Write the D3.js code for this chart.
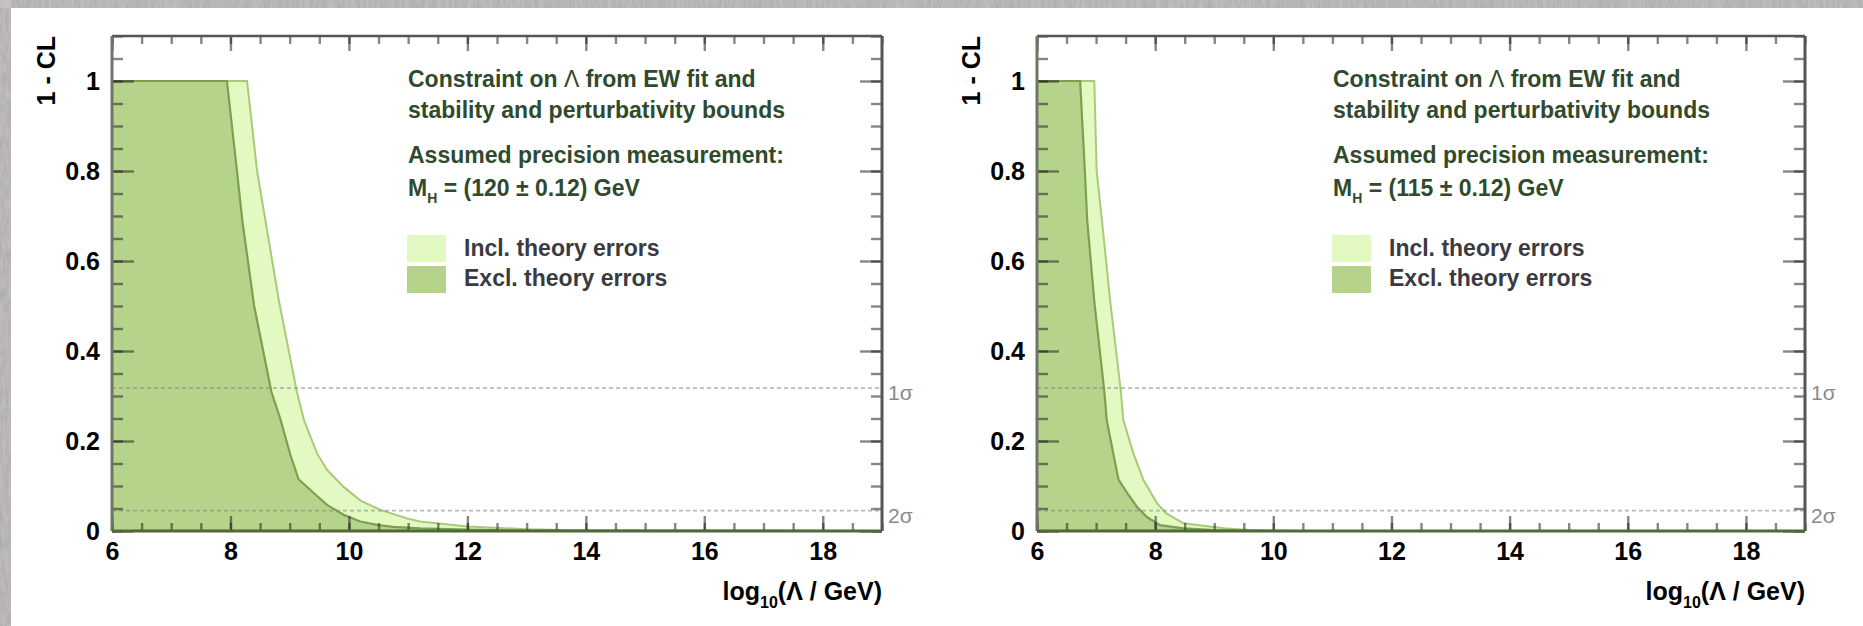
<!DOCTYPE html>
<html>
<head>
<meta charset="utf-8">
<script src="https://cdn.jsdelivr.net/npm/d3@7"></script>
<style>
  body { margin: 0; background: #fff; }
  svg { display: block; font-family: "Liberation Sans", Arial, sans-serif; }
</style>
</head>
<body>
<div id="chart"></div>
<script>
let w = 1863;
let h = 626;

// 1 - CL curves, M_H = 120 GeV (left panel)
const excl120X = [6, 7.94, 8.11, 8.20, 8.40, 8.69, 8.84, 9.01, 9.15, 9.41, 9.63, 9.91, 10.19, 10.5, 10.75, 11.2, 12, 13, 19];
const excl120Y = [1, 1, 0.8, 0.69, 0.50, 0.31, 0.25, 0.17, 0.115, 0.084, 0.058, 0.036, 0.021, 0.013, 0.009, 0.006, 0.003, 0.001, 0];
const incl120X = [6, 8.28, 8.45, 8.59, 8.82, 9.12, 9.24, 9.46, 9.63, 9.91, 10.19, 10.53, 10.98, 11.2, 12, 13, 14, 19];
const incl120Y = [1, 1, 0.8, 0.69, 0.51, 0.31, 0.247, 0.173, 0.136, 0.098, 0.068, 0.047, 0.028, 0.021, 0.01, 0.004, 0.001, 0];

// M_H = 115 GeV (right panel)
const excl115X = [6, 6.73, 6.81, 6.85, 6.97, 7.14, 7.18, 7.29, 7.38, 7.55, 7.69, 7.86, 8.08, 8.48, 9, 10, 19];
const excl115Y = [1, 1, 0.8, 0.69, 0.51, 0.31, 0.247, 0.173, 0.114, 0.080, 0.054, 0.031, 0.013, 0.006, 0.002, 0, 0];
const incl115X = [6, 6.97, 7.01, 7.10, 7.24, 7.42, 7.46, 7.63, 7.80, 8.03, 8.19, 8.48, 9.16, 9.6, 10.5, 19];
const incl115Y = [1, 1, 0.8, 0.69, 0.51, 0.31, 0.247, 0.173, 0.114, 0.062, 0.039, 0.017, 0.006, 0.002, 0, 0];

// axis ticks and labels
const xMajor = [6, 8, 10, 12, 14, 16, 18];
const xMinor = d3.range(6, 19.01, 0.5);
const yMajor = [0, 0.2, 0.4, 0.6, 0.8, 1];
const yMinor = d3.range(0, 1.101, 0.05);
const sigmaLines = [{ v: 0.3173, label: "1σ" }, { v: 0.0455, label: "2σ" }];
const legendLabels = ["Incl. theory errors", "Excl. theory errors"];
const massLabels = ["120", "115"];

const lightFill = "#e2f9c2", lightLine = "#a9c97c";
const darkFill = "#b6d38b", darkLine = "#7aa050";

const panels = [
  { left: 112, right: 882, mass: massLabels[0], excl: [excl120X, excl120Y], incl: [incl120X, incl120Y] },
  { left: 1037, right: 1805, mass: massLabels[1], excl: [excl115X, excl115Y], incl: [incl115X, incl115Y] }
];
const plotTop = 36, plotBottom = 531;

let svg = d3.select("#chart")
  .append("svg")
  .attr("width", w)
  .attr("height", h);

// gray textured border of the slide
const defs = svg.append("defs");
const f = defs.append("filter").attr("id", "grain").attr("x", 0).attr("y", 0).attr("width", 1).attr("height", 1);
f.append("feTurbulence").attr("type", "fractalNoise").attr("baseFrequency", "0.35 0.08").attr("numOctaves", 2).attr("result", "n");
f.append("feColorMatrix").attr("in", "n").attr("type", "matrix")
  .attr("values", "0 0 0 0 0.6  0 0 0 0 0.58  0 0 0 0 0.6  0 0 0 0.6 0.3").attr("result", "c");
f.append("feComposite").attr("in", "c").attr("in2", "SourceGraphic").attr("operator", "in");

svg.append("rect").attr("width", w).attr("height", h).attr("fill", "#fff");
svg.append("rect").attr("x", 0).attr("y", 0).attr("width", w).attr("height", 8).attr("fill", "#9c989b");
svg.append("rect").attr("x", 0).attr("y", 0).attr("width", 11).attr("height", h).attr("fill", "#9c989b");
svg.append("rect").attr("x", 0).attr("y", 0).attr("width", w).attr("height", 8).attr("fill", "#888").attr("filter", "url(#grain)");
svg.append("rect").attr("x", 0).attr("y", 0).attr("width", 11).attr("height", h).attr("fill", "#888").attr("filter", "url(#grain)");

panels.forEach(p => {
  const x = d3.scaleLinear().domain([6, 19]).range([p.left, p.right]);
  const y = d3.scaleLinear().domain([0, 1.1]).range([plotBottom, plotTop]);
  const g = svg.append("g");

  const area = d3.area().x(d => x(d[0])).y0(y(0)).y1(d => y(d[1]));
  const line = d3.line().x(d => x(d[0])).y(d => y(d[1]));
  const pts = s => s[0].map((v, i) => [v, s[1][i]]);

  g.append("path").attr("d", area(pts(p.incl))).attr("fill", lightFill);
  g.append("path").attr("d", line(pts(p.incl))).attr("fill", "none").attr("stroke", lightLine).attr("stroke-width", 2);
  g.append("path").attr("d", area(pts(p.excl))).attr("fill", darkFill);
  g.append("path").attr("d", line(pts(p.excl))).attr("fill", "none").attr("stroke", darkLine).attr("stroke-width", 2.2);

  // 1 sigma / 2 sigma lines
  sigmaLines.forEach(s => {
    g.append("line")
      .attr("x1", x(6)).attr("x2", x(19)).attr("y1", y(s.v)).attr("y2", y(s.v))
      .attr("stroke", "#8a8a8a").attr("stroke-opacity", 0.6).attr("stroke-width", 1.8)
      .attr("stroke-dasharray", "4,3");
    g.append("text")
      .attr("x", x(19) + 6).attr("y", y(s.v) + 12)
      .attr("font-size", 21).attr("fill", "#8a8a8a")
      .text(s.label);
  });

  // axes with inward ticks
  const tickStyle = sel => {
    sel.select(".domain").remove();
    sel.selectAll(".tick line").attr("stroke", "#222").attr("stroke-opacity", 0.55).attr("stroke-width", 2.4);
  };
  const labelStyle = sel => sel.selectAll("text").attr("font-size", 25).attr("font-weight", "bold").attr("fill", "#000").attr("font-family", "Liberation Sans, Arial, sans-serif");

  g.append("g").attr("transform", `translate(0,${plotBottom})`)
    .call(d3.axisBottom(x).tickValues(xMinor).tickSizeInner(-8).tickSizeOuter(0).tickFormat("")).call(tickStyle);
  g.append("g").attr("transform", `translate(0,${plotBottom})`)
    .call(d3.axisBottom(x).tickValues(xMajor).tickSizeInner(-15).tickSizeOuter(0).tickPadding(11).tickFormat(d3.format("d")))
    .call(tickStyle).call(labelStyle);
  g.append("g").attr("transform", `translate(0,${plotTop})`)
    .call(d3.axisTop(x).tickValues(xMinor).tickSizeInner(-8).tickSizeOuter(0).tickFormat("")).call(tickStyle);
  g.append("g").attr("transform", `translate(0,${plotTop})`)
    .call(d3.axisTop(x).tickValues(xMajor).tickSizeInner(-15).tickSizeOuter(0).tickFormat("")).call(tickStyle);

  g.append("g").attr("transform", `translate(${p.left},0)`)
    .call(d3.axisLeft(y).tickValues(yMinor).tickSizeInner(-11).tickSizeOuter(0).tickFormat("")).call(tickStyle);
  g.append("g").attr("transform", `translate(${p.left},0)`)
    .call(d3.axisLeft(y).tickValues(yMajor).tickSizeInner(-22).tickSizeOuter(0).tickPadding(12).tickFormat(d3.format("~g")))
    .call(tickStyle).call(labelStyle);
  g.append("g").attr("transform", `translate(${p.right},0)`)
    .call(d3.axisRight(y).tickValues(yMinor).tickSizeInner(-11).tickSizeOuter(0).tickFormat("")).call(tickStyle);
  g.append("g").attr("transform", `translate(${p.right},0)`)
    .call(d3.axisRight(y).tickValues(yMajor).tickSizeInner(-22).tickSizeOuter(0).tickFormat("")).call(tickStyle);

  // frame
  g.append("line").attr("x1", p.left).attr("x2", p.right).attr("y1", plotTop).attr("y2", plotTop).attr("stroke", "#555").attr("stroke-width", 2.5);
  g.append("line").attr("x1", p.right).attr("x2", p.right).attr("y1", plotTop).attr("y2", plotBottom).attr("stroke", "#555").attr("stroke-width", 3);
  g.append("line").attr("x1", p.left).attr("x2", p.left).attr("y1", plotTop).attr("y2", plotBottom).attr("stroke", "#6e7566").attr("stroke-width", 3);
  g.append("line").attr("x1", p.left).attr("x2", p.right).attr("y1", plotBottom).attr("y2", plotBottom).attr("stroke", "#4f6b35").attr("stroke-width", 3);

  // axis titles
  g.append("text")
    .attr("transform", `translate(${p.left - 57},${plotTop}) rotate(-90)`)
    .attr("text-anchor", "end").attr("font-size", 25).attr("font-weight", "bold")
    .text("1 - CL");
  const xt = g.append("text")
    .attr("x", p.right).attr("y", 600)
    .attr("text-anchor", "end").attr("font-size", 25).attr("font-weight", "bold");
  xt.append("tspan").text("log");
  xt.append("tspan").attr("font-size", 16).attr("dy", 8).text("10");
  xt.append("tspan").attr("dy", -8).text("(Λ / GeV)");

  // annotation
  const tx = p.left + 296;
  const t1 = g.append("text").attr("x", tx).attr("y", 87).attr("font-size", 23).attr("font-weight", "bold").attr("fill", "#2f4a2c");
  t1.append("tspan").text("Constraint on ");
  t1.append("tspan").attr("font-weight", "normal").text("Λ");
  t1.append("tspan").text(" from EW fit and");
  g.append("text").attr("x", tx).attr("y", 118).attr("font-size", 23).attr("font-weight", "bold").attr("fill", "#2f4a2c")
    .text("stability and perturbativity bounds");
  g.append("text").attr("x", tx).attr("y", 163).attr("font-size", 23).attr("font-weight", "bold").attr("fill", "#2f4a2c")
    .text("Assumed precision measurement:");
  const t4 = g.append("text").attr("x", tx).attr("y", 196).attr("font-size", 23).attr("font-weight", "bold").attr("fill", "#2f4a2c");
  t4.append("tspan").text("M");
  t4.append("tspan").attr("font-size", 14).attr("dy", 7).text("H");
  t4.append("tspan").attr("dy", -7).text(` = (${p.mass} ± 0.12) GeV`);

  // legend
  [lightFill, darkFill].forEach((c, i) => {
    g.append("rect").attr("x", tx - 1).attr("y", 235 + i * 31).attr("width", 39).attr("height", 27).attr("fill", c);
    g.append("text").attr("x", tx + 56).attr("y", 256 + i * 30)
      .attr("font-size", 23).attr("font-weight", "bold").attr("fill", "#3a3a42")
      .text(legendLabels[i]);
  });
});
</script>
</body>
</html>
